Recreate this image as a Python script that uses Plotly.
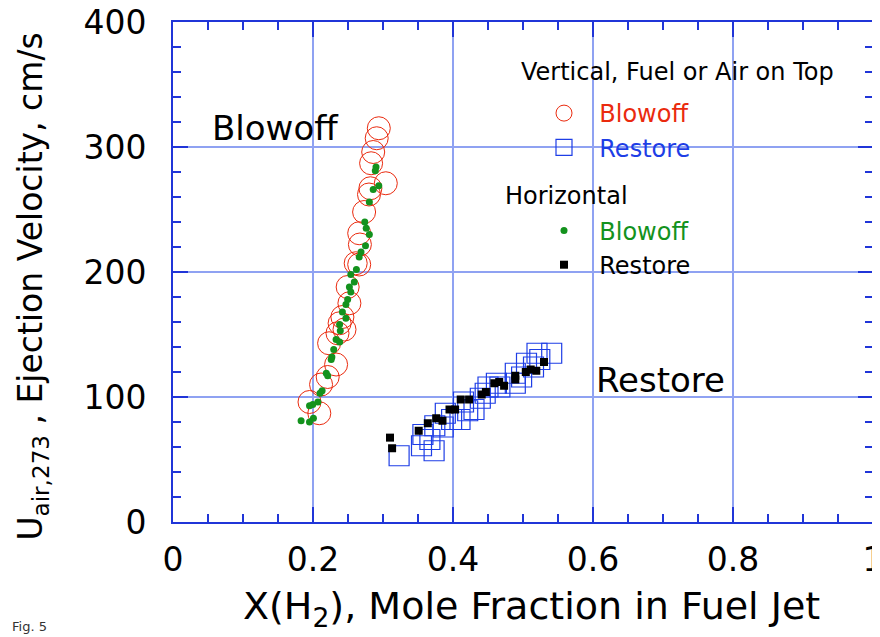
import plotly.graph_objects as go

# Vertical, Fuel or Air on Top - Blowoff (red open circles)
vb_x = [0.294, 0.291, 0.286, 0.283, 0.304, 0.282, 0.280, 0.273, 0.266, 0.267, 0.261, 0.266,
        0.2495, 0.252, 0.242, 0.238, 0.245, 0.235, 0.223, 0.233, 0.221, 0.2115, 0.195, 0.209]
vb_y = [315, 307, 296, 287, 271, 267, 262, 248, 231, 222, 207, 206,
        188, 175, 164, 159, 154, 151, 143, 126, 116, 110, 96, 87]

# Vertical - Restore (blue open squares)
vr_x = [0.323, 0.355, 0.373, 0.357, 0.374, 0.386, 0.398, 0.410, 0.421, 0.430, 0.415, 0.446,
        0.462, 0.467, 0.489, 0.498, 0.505, 0.515, 0.520, 0.541, 0.524, 0.489, 0.450, 0.439,
        0.389, 0.367]
vr_y = [53, 61, 57, 70, 77, 76, 82, 82, 89, 90, 96, 103,
        111, 108, 119, 116, 127, 124, 135, 135, 130, 111, 108, 99,
        87, 66]

# Horizontal - Blowoff (green dots)
hb_x = [0.290, 0.289, 0.294, 0.286, 0.2805, 0.274, 0.276, 0.2805, 0.275, 0.2686, 0.266, 0.262,
        0.254, 0.259, 0.252, 0.254, 0.2495, 0.247, 0.242, 0.247, 0.238, 0.239, 0.233, 0.238,
        0.2296, 0.227, 0.226, 0.219, 0.221, 0.213, 0.210, 0.207, 0.1996, 0.195, 0.2006, 0.195,
        0.183]
hb_y = [284, 281, 269, 266, 256, 240, 235, 230, 221, 216, 212, 202,
        198, 192, 188, 184, 178, 174, 168, 163, 158, 153, 146, 144,
        138, 132, 130, 119, 117, 105, 103, 96, 94, 93, 83, 80,
        81]

# Horizontal - Restore (black squares)
hr_x = [0.310, 0.313, 0.351, 0.364, 0.376, 0.385, 0.395, 0.403, 0.411, 0.423, 0.441, 0.447,
        0.459, 0.466, 0.473, 0.489, 0.489, 0.504, 0.511, 0.519, 0.530]
hr_y = [67.5, 59, 73, 79, 83, 81, 90, 90, 98, 98, 102, 104,
        111, 112, 109, 117, 114, 120, 122, 121, 128]

x_ticks = [0, 0.2, 0.4, 0.6, 0.8, 1]
x_tick_text = ["0", "0.2", "0.4", "0.6", "0.8", "1"]
y_ticks = [0, 100, 200, 300, 400]

RED = "#ea2a0e"
BLUE = "#1e3ee6"
GREEN = "#13921d"
AXIS = "#2035d8"
GRID = "#8fa2f2"
FONT = "DejaVu Sans"
GAP = "&nbsp;&nbsp;"

fig = go.Figure()
fig.add_trace(go.Scatter(
    x=vb_x, y=vb_y, mode="markers",
    marker=dict(symbol="circle-open", size=23, color=RED, line=dict(width=1, color=RED)),
    name=f'{GAP}<span style="color:{RED}">Blowoff</span>', legendgroup="v"))
fig.add_trace(go.Scatter(
    x=vr_x, y=vr_y, mode="markers",
    marker=dict(symbol="square-open", size=20, color=BLUE, line=dict(width=1.2, color=BLUE)),
    name=f'{GAP}<span style="color:{BLUE}">Restore</span>', legendgroup="v"))
fig.add_trace(go.Scatter(
    x=hb_x, y=hb_y, mode="markers",
    marker=dict(symbol="circle", size=7, color=GREEN),
    name=f'{GAP}<span style="color:{GREEN}">Blowoff</span>', legendgroup="h"))
fig.add_trace(go.Scatter(
    x=hr_x, y=hr_y, mode="markers",
    marker=dict(symbol="square", size=8, color="black"),
    name=f"{GAP}Restore", legendgroup="h"))

axis_common = dict(
    showline=True, linecolor=AXIS, linewidth=2, mirror="ticks",
    ticks="inside", ticklen=15, tickwidth=2, tickcolor=AXIS,
    showgrid=True, gridcolor=GRID, gridwidth=1.5, zeroline=False,
    tickfont=dict(family=FONT, size=33, color="black"),
    automargin=False, ticklabeloverflow="allow",
)

fig.update_xaxes(
    range=[0, 1], tickvals=x_ticks, ticktext=x_tick_text, ticklabelstandoff=7,
    minor=dict(ticks="inside", ticklen=8, tickwidth=2, tickcolor=AXIS, dtick=0.05, showgrid=False),
    **axis_common)
fig.update_yaxes(
    range=[0, 400], tickvals=y_ticks, ticklabelstandoff=18,
    minor=dict(ticks="inside", ticklen=8, tickwidth=2, tickcolor=AXIS, dtick=20, showgrid=False),
    **axis_common)

fig.add_shape(type="rect", xref="paper", yref="paper", x0=0.501, x1=0.801, y0=0.464, y1=0.878,
              fillcolor="white", line=dict(width=0), layer="between")

# axis titles
fig.add_annotation(text="X(H<sub>2</sub>), Mole Fraction in Fuel Jet", x=0.512, y=-0.172,
                   xref="paper", yref="paper", xanchor="center", yanchor="middle", showarrow=False,
                   font=dict(family=FONT, size=38, color="black"))
fig.add_annotation(text="U<sub>air,273</sub> , Ejection Velocity, cm/s", x=-0.202, y=0.47,
                   xref="paper", yref="paper", xanchor="center", yanchor="middle", showarrow=False,
                   textangle=-90, font=dict(family=FONT, size=33, color="black"))

fig.add_annotation(text="Vertical, Fuel or Air on Top", x=0.494, y=0.90, xref="paper", yref="paper",
                   xanchor="left", yanchor="middle", showarrow=False,
                   font=dict(family=FONT, size=24, color="black"))
fig.add_annotation(text="Horizontal", x=0.471, y=0.652, xref="paper", yref="paper",
                   xanchor="left", yanchor="middle", showarrow=False,
                   font=dict(family=FONT, size=24, color="black"))
fig.add_annotation(text="Blowoff", x=0.146, y=315, xref="x", yref="y", showarrow=False,
                   font=dict(family=FONT, size=34, color="black"))
fig.add_annotation(text="Restore", x=0.696, y=114, xref="x", yref="y", showarrow=False,
                   font=dict(family=FONT, size=34, color="black"))
fig.add_annotation(text="Fig. 5", x=-0.233, y=-0.208, xref="paper", yref="paper",
                   xanchor="left", yanchor="middle", showarrow=False,
                   font=dict(family=FONT, size=13, color="#333333"))

fig.update_layout(
    width=872, height=629,
    margin=dict(l=165, r=7, t=14, b=115, autoexpand=False),
    paper_bgcolor="white", plot_bgcolor="white",
    font=dict(family=FONT, color="black"),
    legend=dict(x=0.530, y=0.862, xanchor="left", yanchor="top",
                bgcolor="rgba(0,0,0,0)", font=dict(family=FONT, size=24),
                tracegroupgap=49, itemsizing="trace"),
    showlegend=True,
)

fig.write_html("out.html")
